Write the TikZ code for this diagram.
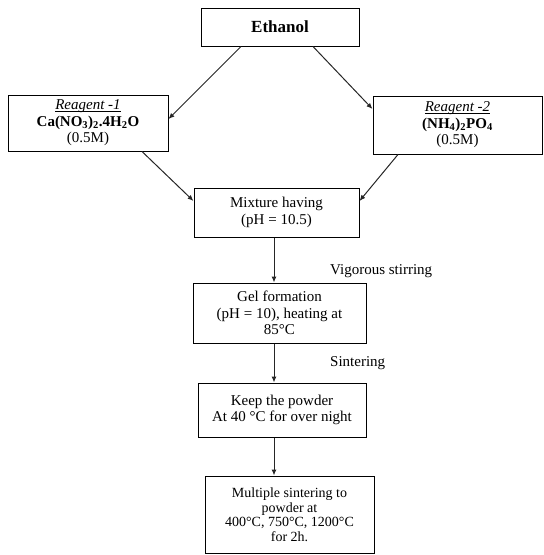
\documentclass[tikz,border=0pt]{standalone}
\usepackage{fontspec}
\setmainfont{Liberation Serif}
\usetikzlibrary{arrows.meta}
\newcommand\myul[1]{\setbox0\hbox{#1}\rlap{\rule[-1.6pt]{\wd0}{0.6pt}}\box0}
\begin{document}
\begin{tikzpicture}[x=1pt,y=-1pt,
  box/.style={draw=black, line width=1pt, rectangle, align=center, inner sep=0pt,
    font=\fontsize{15}{16.5}\selectfont},
  arr/.style={draw=black!85, line width=1pt, -{Latex[length=6pt,width=5pt]}},
  lbl/.style={anchor=west, inner sep=0pt, font=\fontsize{15}{16.5}\selectfont}]
\useasboundingbox (0,0) rectangle (544,555);
\node[box, minimum width=158pt, minimum height=38pt, font=\fontsize{17}{19}\selectfont\bfseries] (eth) at (280,27) {Ethanol};
\node[box, minimum width=160pt, minimum height=56pt] (r1) at (88,123)
  {\myul{\textit{Reagent -1}}\\ \textbf{Ca(NO\textsubscript{3})\textsubscript{2}.4H\textsubscript{2}O}\\ (0.5M)};
\node[box, minimum width=169pt, minimum height=58pt] (r2) at (457.5,125)
  {\myul{\textit{Reagent -2}}\\ \textbf{(NH\textsubscript{4})\textsubscript{2}PO\textsubscript{4}}\\ (0.5M)};
\node[box, minimum width=165pt, minimum height=49pt] (mix) at (276.5,212.5)
  {Mixture having\\ (pH = 10.5)};
\node[box, minimum width=173pt, minimum height=60pt] (gel) at (279.5,313)
  {Gel formation\\ (pH = 10), heating at\\ 85°C};
\node[box, minimum width=168pt, minimum height=54pt] (keep) at (282,410)
  {Keep the powder\\ At 40 °C for over night};
\node[box, minimum width=169pt, minimum height=77pt, font=\fontsize{14}{14.5}\selectfont] (mult) at (289.5,514.5)
  {Multiple sintering to\\ powder at\\ 400°C, 750°C, 1200°C\\ for 2h.};
\node[lbl] (vig) at (330,271) {Vigorous stirring};
\node[lbl] (sin) at (330,363) {Sintering};
\coordinate (col) at (274,0);
\draw[arr] ([xshift=-39pt]eth.south) -- ([yshift=4pt]r1.east);
\draw[arr] ([xshift=33pt]eth.south) -- ([yshift=16pt]r2.west);
\draw[arr] ([xshift=54pt]r1.south) -- ([yshift=11.5pt]mix.west);
\draw[arr] ([xshift=-59.5pt]r2.south) -- ([yshift=11.5pt]mix.east);
\draw[arr] (mix.south -| col) -- (gel.north -| col);
\draw[arr] (gel.south -| col) -- (keep.north -| col);
\draw[arr] (keep.south -| col) -- (mult.north -| col);
\end{tikzpicture}
\end{document}
